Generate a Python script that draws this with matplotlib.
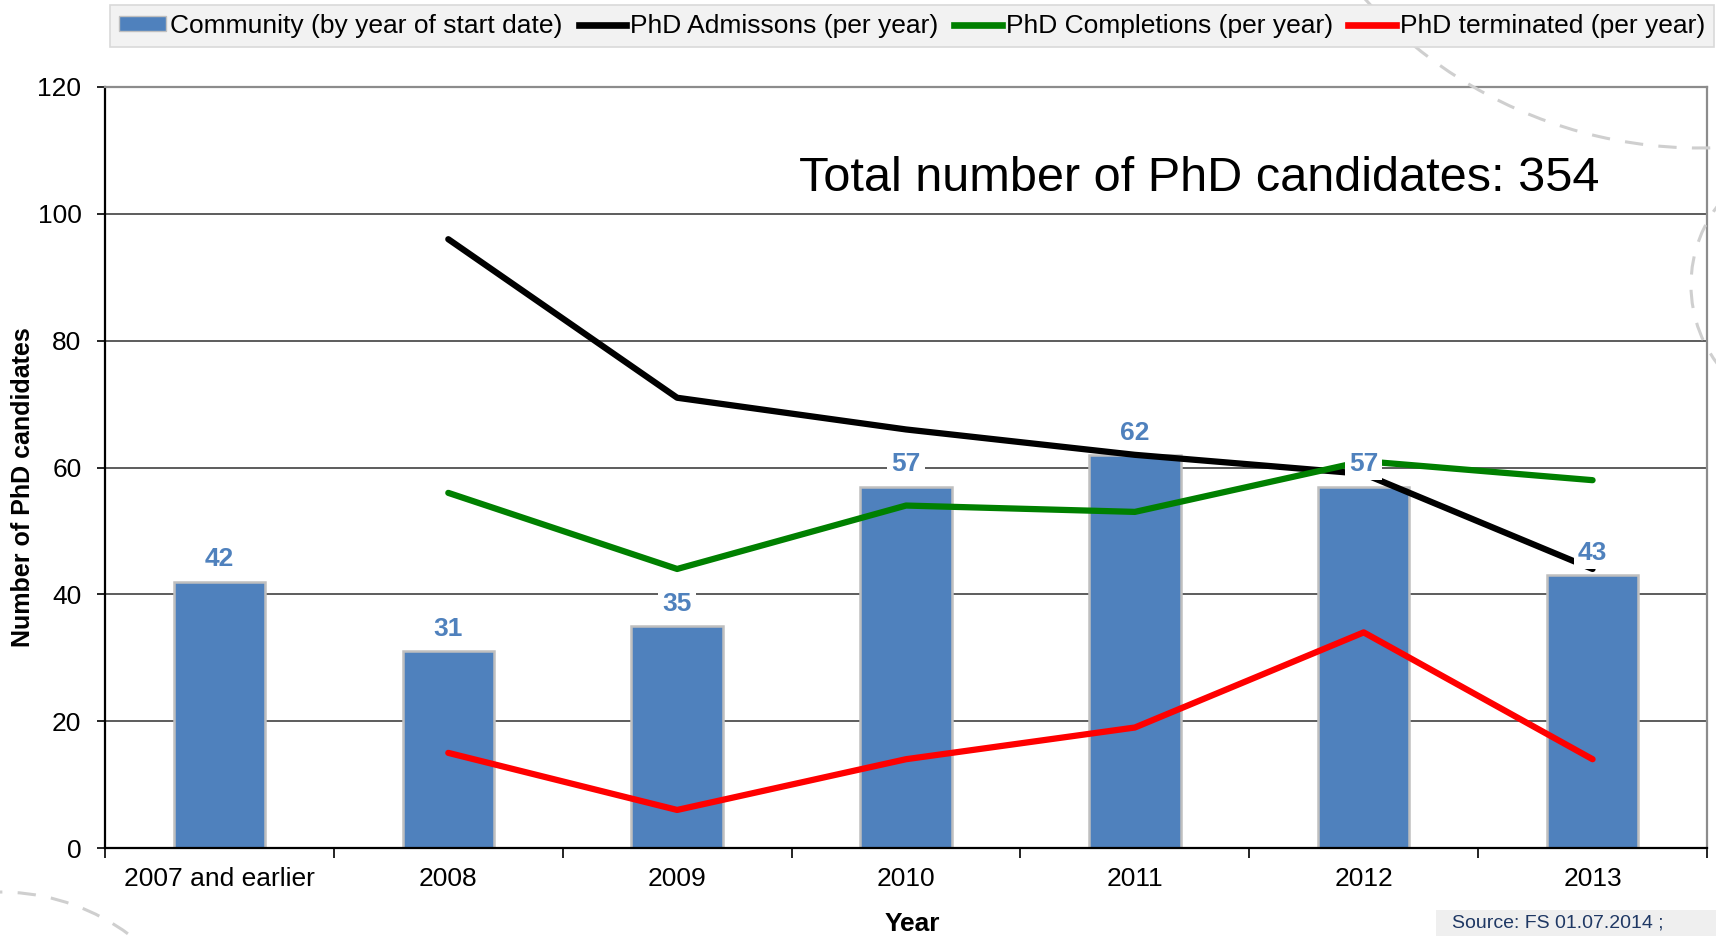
import numpy as np
import matplotlib
matplotlib.use("Agg")
import matplotlib.pyplot as plt
from matplotlib.patches import Arc, Rectangle, Patch
from matplotlib.lines import Line2D

plt.rcParams['font.family'] = ['Liberation Sans', 'DejaVu Sans']

# ---------------- data ----------------
categories = ["2007 and earlier", "2008", "2009", "2010", "2011", "2012", "2013"]
community = [42, 31, 35, 57, 62, 57, 43]
line_years = ["2008", "2009", "2010", "2011", "2012", "2013"]
admissions = [96, 71, 66, 62, 59, 44]
completions = [56, 44, 54, 53, 61, 58]
terminated = [15, 6, 14, 19, 34, 14]
y_ticks = [0, 20, 40, 60, 80, 100, 120]
total_text = "Total number of PhD candidates: 354"
source_text = "Source: FS 01.07.2014 ;"

W, H = 1716, 936
fig = plt.figure(figsize=(W / 100, H / 100), dpi=100)
fig.patch.set_facecolor('white')

# decorative dashed arcs (slide background), in pixel coords
deco = dict(color='#CFCFCF', lw=2.2, ls=(0, (6, 5)), transform=None, zorder=0)
fig.patches.append(Arc((1700, 1239), 2 * 451, 2 * 451, theta1=222, theta2=292, **deco))
fig.patches.append(Arc((1822, 651), 2 * 131, 2 * 131, theta1=138, theta2=222, **deco))
fig.patches.append(Arc((0, -173), 2 * 217, 2 * 217, theta1=45, theta2=112, **deco))

ax = fig.add_axes([105 / W, 1 - 848 / H, (1707 - 105) / W, (848 - 87) / H])
ax.set_facecolor('none')

x = np.arange(len(categories))
xl = np.array([categories.index(y) for y in line_years])

ax.bar(x, community, width=0.4, color='#4F81BD', edgecolor='#BFBFBF', linewidth=1.8, zorder=2)
ax.plot(xl, admissions, color='black', lw=4.5, zorder=3, solid_capstyle='round')
ax.plot(xl, completions, color='#008000', lw=4.5, zorder=3, solid_capstyle='round')
ax.plot(xl, terminated, color='#FF0000', lw=4.5, zorder=3, solid_capstyle='round')

for xi, v in zip(x, community):
    ax.text(xi, v + 2.4, str(v), ha='center', va='baseline', fontsize=19, fontweight='bold',
            color='#4F81BD', zorder=5,
            bbox=dict(boxstyle='square,pad=0.15', facecolor='white', edgecolor='none'))

ax.set_xlim(-0.5, len(categories) - 0.5)
ax.set_ylim(0, 120)
ax.set_yticks(y_ticks)
ax.tick_params(axis='y', labelsize=19, length=6, width=1.2, pad=11, direction='out', colors='black')
ax.set_xticks(np.arange(-0.5, len(categories), 1))
ax.set_xticklabels([])
ax.set_xticks(x, minor=True)
ax.set_xticklabels(categories, minor=True)
ax.tick_params(axis='x', which='major', length=7, width=1.2, direction='out')
ax.tick_params(axis='x', which='minor', length=0, labelsize=19, pad=14)

ax.yaxis.grid(True, color='#303030', lw=1.1)
ax.set_axisbelow(True)
for s in ['left', 'bottom']:
    ax.spines[s].set_color('black')
    ax.spines[s].set_linewidth(1.6)
for s in ['top', 'right']:
    ax.spines[s].set_color('#8C8C8C')
    ax.spines[s].set_linewidth(1.6)

ax.set_ylabel("Number of PhD candidates", fontsize=18, fontweight='bold')
ax.yaxis.set_label_coords(-0.044, 0.474)
ax.set_xlabel("Year", fontsize=19, fontweight='bold')
ax.xaxis.set_label_coords(0.504, -0.084)

fig.text(1199 / W, 1 - 191 / H, total_text, ha='center', va='baseline', fontsize=35, color='black')

handles = [
    Patch(facecolor='#4F81BD', edgecolor='#BFBFBF', label="Community (by year of start date)"),
    Line2D([0], [0], color='black', lw=4.8, label="PhD Admissons (per year)"),
    Line2D([0], [0], color='#008000', lw=4.8, label="PhD Completions (per year)"),
    Line2D([0], [0], color='#FF0000', lw=4.8, label="PhD terminated (per year)"),
]
leg = fig.legend(handles=handles, loc='center', bbox_to_anchor=(912 / W, 1 - 26 / H), ncol=4,
                 fontsize=19, frameon=True, fancybox=False, framealpha=1,
                 facecolor='#F2F2F2', edgecolor='#D9D9D9', handlelength=1.8, handleheight=0.5,
                 handletextpad=0.15, columnspacing=0.6, borderpad=0.35)
leg.get_frame().set_linewidth(1.2)

# source box at the bottom right
fig.patches.append(Rectangle((1436, 0), 290, 26, transform=None, facecolor='#EFEFEF',
                             edgecolor='none', zorder=1))
fig.text(1452 / W, 4 / H, source_text, ha='left', va='bottom',
         fontsize=14, color='#1F3864')

fig.savefig("out.png", dpi=100)
